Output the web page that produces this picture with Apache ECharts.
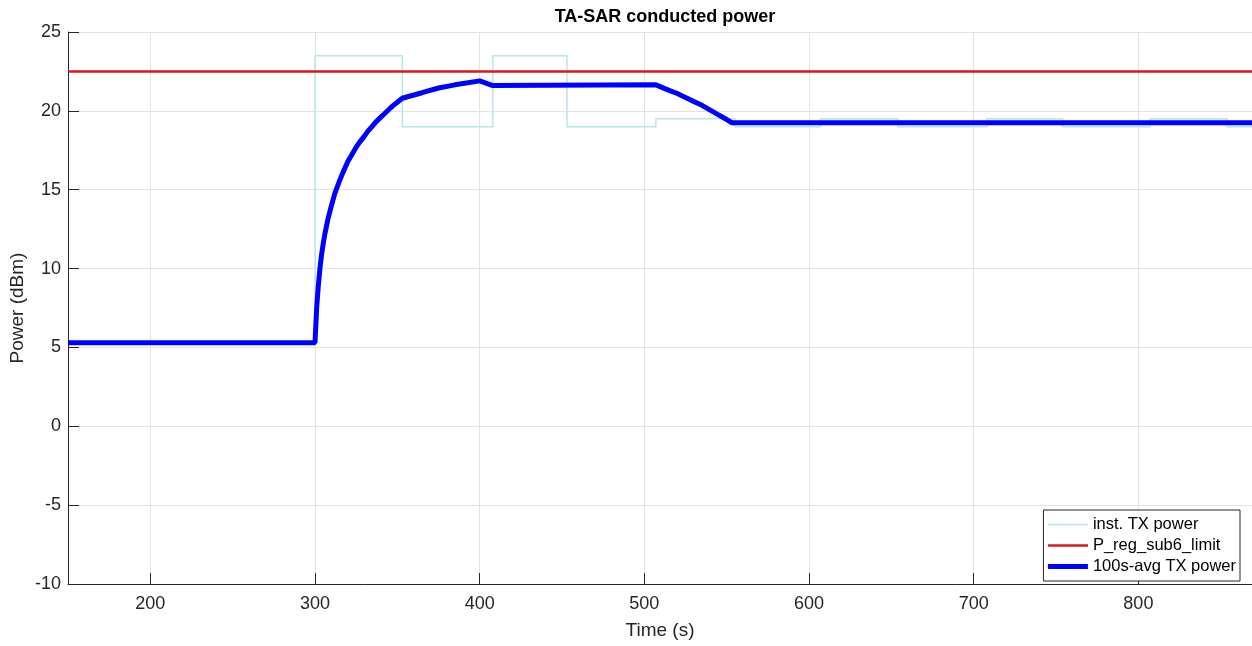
<!DOCTYPE html>
<html>
<head>
<meta charset="utf-8">
<script src="https://cdn.jsdelivr.net/npm/echarts@6/dist/echarts.min.js"></script>
<style>
  html, body { margin: 0; padding: 0; background: #fff; }
  #chart { width: 1252px; height: 646px; }
</style>
</head>
<body>
<div id="chart"></div>
<script>
// tick labels
const xTicks = [200, 300, 400, 500, 600, 700, 800];
const yTicks = [-10, -5, 0, 5, 10, 15, 20, 25];

// instantaneous TX power (step changes: time, new level)
const instTimes = [150, 300, 353, 408, 453, 507, 555, 607, 654, 708, 754, 807, 854, 869];
const instPower = [5.3, 23.5, 19.0, 23.5, 19.0, 19.5, 19.0, 19.5, 19.0, 19.5, 19.0, 19.5, 19.0, 19.0];

// regulatory limit
const limitTimes = [150, 869];
const limitPower = [22.5, 22.5];

// 100s average TX power
const avgTimes = [150, 300, 301, 302, 303, 304, 305, 306, 307, 308, 310, 312, 315, 317, 320, 322, 325, 327, 330,
  332, 335, 337, 340, 342, 345, 347, 350, 353, 365, 375, 385, 400, 408, 507, 515, 520, 525, 530, 535, 540, 545, 550, 553, 869];
const avgPower = [5.3, 5.3, 7.5, 8.9, 10.0, 10.9, 11.6, 12.2, 12.7, 13.2, 14.0, 14.75, 15.6, 16.1, 16.8, 17.15, 17.7, 18.0, 18.4,
  18.7, 19.05, 19.3, 19.6, 19.8, 20.1, 20.3, 20.55, 20.8, 21.15, 21.45, 21.65, 21.9, 21.6, 21.65, 21.3, 21.1, 20.85, 20.6, 20.35, 20.05, 19.75, 19.45, 19.25, 19.25];

const zip = (xs, ys) => xs.map((x, i) => [x, ys[i]]);

const chart = echarts.init(document.getElementById('chart'));
const font = 'Liberation Sans, Arial, sans-serif';
const axisColor = '#262626';
const gridColor = '#e3e3e3';
const cyan = '#b5e6ea', red = '#e0141a', blue = '#0000ff';

chart.setOption({
  animation: false,
  backgroundColor: '#fff',
  title: {
    text: 'TA-SAR conducted power',
    left: 660,
    textAlign: 'center',
    top: 3,
    textStyle: { fontFamily: font, fontSize: 18, fontWeight: 'bold', color: '#000' }
  },
  grid: { left: 68, right: 0, top: 32, bottom: 62, outerBoundsMode: 'none' },
  legend: {
    orient: 'vertical',
    right: 12,
    bottom: 65,
    backgroundColor: '#fff',
    borderColor: axisColor,
    borderWidth: 1,
    borderRadius: 0,
    padding: [6, 4, 6, 2],
    itemWidth: 40,
    itemHeight: 14,
    itemGap: 4,
    itemStyle: { opacity: 0 },
    textStyle: { fontFamily: font, fontSize: 16.5, color: '#000' },
    data: [
      { name: 'inst. TX power', lineStyle: { color: cyan, width: 1.5 } },
      { name: 'P_reg_sub6_limit', lineStyle: { color: red, width: 2.5 } },
      { name: '100s-avg TX power', lineStyle: { color: blue, width: 5 } }
    ]
  },
  xAxis: {
    type: 'value',
    min: 150,
    max: 869,
    name: 'Time (s)',
    nameLocation: 'middle',
    nameGap: 37,
    nameTextStyle: { fontFamily: font, fontSize: 19, color: axisColor },
    axisLine: { show: true, onZero: false, lineStyle: { color: axisColor, width: 1 } },
    axisTick: { show: true, inside: true, length: 11, customValues: xTicks, lineStyle: { color: axisColor } },
    axisLabel: { customValues: xTicks, margin: 11, fontFamily: font, fontSize: 18, color: axisColor },
    splitLine: { show: true, lineStyle: { color: gridColor, width: 1 } }
  },
  yAxis: {
    type: 'value',
    min: yTicks[0],
    max: yTicks[yTicks.length - 1],
    interval: 5,
    name: 'Power (dBm)',
    nameLocation: 'middle',
    nameGap: 41,
    nameMoveOverlap: false,
    nameTextStyle: { fontFamily: font, fontSize: 19, color: axisColor },
    axisLine: { show: true, onZero: false, lineStyle: { color: axisColor, width: 1 } },
    axisTick: { show: true, inside: true, length: 11, lineStyle: { color: axisColor } },
    axisLabel: { margin: 7, fontFamily: font, fontSize: 18, color: axisColor },
    splitLine: { show: true, lineStyle: { color: gridColor, width: 1 } }
  },
  series: [
    {
      name: 'inst. TX power',
      type: 'line',
      step: 'end',
      symbol: 'none',
      data: zip(instTimes, instPower),
      lineStyle: { color: cyan, width: 1.5 },
      itemStyle: { color: cyan },
      z: 2
    },
    {
      name: 'P_reg_sub6_limit',
      type: 'line',
      symbol: 'none',
      data: zip(limitTimes, limitPower),
      lineStyle: { color: red, width: 2.5 },
      itemStyle: { color: red },
      z: 3
    },
    {
      name: '100s-avg TX power',
      type: 'line',
      symbol: 'none',
      data: zip(avgTimes, avgPower),
      lineStyle: { color: blue, width: 5 },
      itemStyle: { color: blue },
      z: 4
    }
  ]
});
</script>
</body>
</html>
